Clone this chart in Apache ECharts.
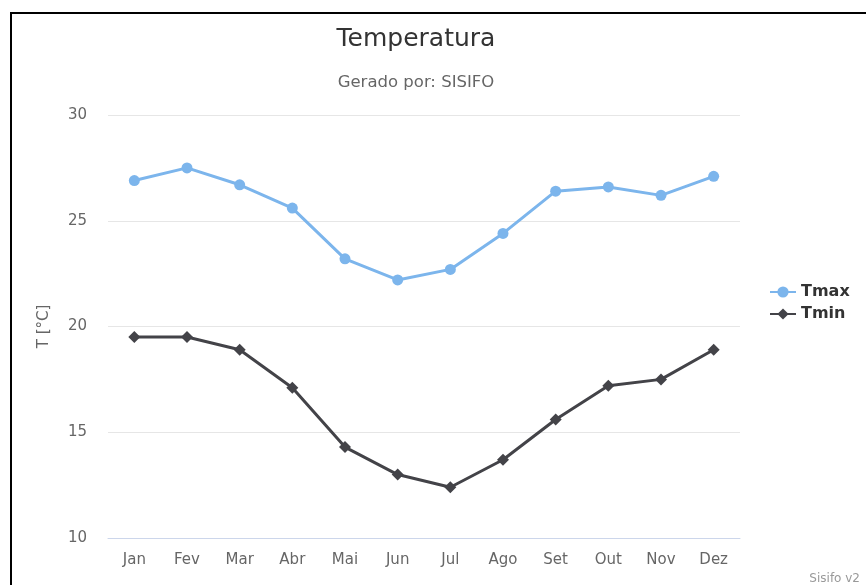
<!DOCTYPE html>
<html>
<head>
<meta charset="utf-8">
<script src="https://cdn.jsdelivr.net/npm/echarts@6/dist/echarts.min.js"></script>
<style>
  html, body { margin: 0; padding: 0; background: #fff; }
  #frame { position: absolute; left: 10px; top: 12px; width: 1000px; height: 1000px;
           border-top: 2px solid #000; border-left: 2px solid #000; }
  #chart { position: absolute; left: 0; top: 0; width: 866px; height: 585px; }
</style>
</head>
<body>
<div id="frame"></div>
<div id="chart"></div>
<script>
// dados
const meses = ['Jan', 'Fev', 'Mar', 'Abr', 'Mai', 'Jun', 'Jul', 'Ago', 'Set', 'Out', 'Nov', 'Dez'];
const tmax = [26.9, 27.5, 26.7, 25.6, 23.2, 22.2, 22.7, 24.4, 26.4, 26.6, 26.2, 27.1];
const tmin = [19.5, 19.5, 18.9, 17.1, 14.3, 13.0, 12.4, 13.7, 15.6, 17.2, 17.5, 18.9];
const yMin = 10, yMax = 30, yStep = 5;

const fonte = 'DejaVu Sans, sans-serif';

const chart = echarts.init(document.getElementById('chart'), null, {renderer: 'canvas'});

const option = {
  backgroundColor: 'transparent',
  animation: false,
  textStyle: {fontFamily: fonte},
  title: {
    text: 'Temperatura',
    subtext: 'Gerado por: SISIFO',
    left: 411,
    top: 22,
    textAlign: 'center',
    itemGap: 22,
    textStyle: {fontSize: 25, fontWeight: 'normal', color: '#333333', fontFamily: fonte},
    subtextStyle: {fontSize: 16.5, color: '#666666', fontFamily: fonte}
  },
  grid: {left: 108, right: 126, top: 115, bottom: 47, containLabel: false},
  legend: {
    orient: 'vertical',
    left: 764,
    top: 279,
    itemWidth: 26,
    itemHeight: 14,
    itemGap: 6,
    textStyle: {fontSize: 16, fontWeight: 'bold', color: '#333333', fontFamily: fonte},
    data: ['Tmax', 'Tmin']
  },
  xAxis: {
    type: 'category',
    data: meses,
    boundaryGap: true,
    axisLine: {lineStyle: {color: '#ccd6eb', width: 1}},
    axisTick: {show: false},
    axisLabel: {color: '#666666', fontSize: 15, margin: 15, fontFamily: fonte}
  },
  yAxis: {
    type: 'value',
    min: yMin,
    max: yMax,
    interval: yStep,
    name: 'T [°C]',
    nameLocation: 'middle',
    nameGap: 56,
    nameRotate: 90,
    nameTextStyle: {color: '#666666', fontSize: 15, fontFamily: fonte},
    axisLine: {show: false},
    axisTick: {show: false},
    axisLabel: {color: '#666666', fontSize: 15, margin: 21, fontFamily: fonte},
    splitLine: {lineStyle: {color: '#e6e6e6', width: 1}}
  },
  series: [
    {
      name: 'Tmax',
      type: 'line',
      data: tmax,
      symbol: 'circle',
      symbolSize: 11,
      itemStyle: {color: '#7cb5ec'},
      lineStyle: {color: '#7cb5ec', width: 3}
    },
    {
      name: 'Tmin',
      type: 'line',
      data: tmin,
      symbol: 'diamond',
      symbolSize: 12,
      itemStyle: {color: '#434348'},
      lineStyle: {color: '#434348', width: 3}
    }
  ],
  graphic: [
    {
      type: 'text',
      right: 6,
      top: 573,
      style: {text: 'Sisifo v2', fill: '#999999', fontSize: 12, fontFamily: fonte}
    }
  ]
};

chart.setOption(option);
window.addEventListener('resize', () => {
  chart.resize();
});
</script>
</body>
</html>
